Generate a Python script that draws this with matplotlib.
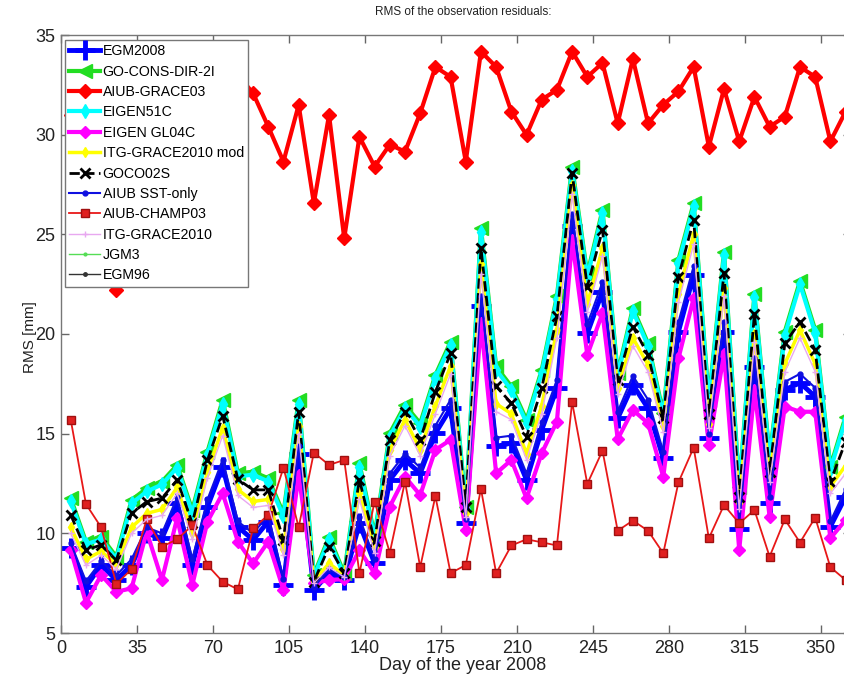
import numpy as np
import matplotlib
matplotlib.use('Agg')
import matplotlib.pyplot as plt

plt.rcParams['font.family'] = ['Liberation Sans', 'DejaVu Sans']

# weekly solutions through 2008
days = np.arange(4.5, 362, 7)

egm2008 = [9.25, 7.32, 8.41, 7.66, 8.41, 10.0, 9.75, 11.51, 8.41, 11.34,
           13.34, 10.33, 9.67, 10.59, 7.41, 14.0, 7.16, 7.99, 7.66, 10.5,
           8.49, 12.68, 13.68, 13.01, 15.02, 16.27, 10.5, 21.4, 14.36, 14.53,
           12.68, 15.19, 17.28, 25.42, 20.04, 22.13, 15.77, 17.45, 16.27, 13.76,
           20.12, 22.96, 14.77, 20.12, 10.2, 18.36, 11.5, 17.2, 17.55, 16.86,
           10.34, 11.84]
go_cons = [11.76, 9.58, 9.83, 8.83, 11.67, 12.26, 12.59, 13.43, 11.17, 14.1,
           16.69, 13.01, 13.09, 12.76, 11.0, 16.69, 7.91, 9.83, 7.99, 13.51,
           9.9, 15.02, 16.44, 15.52, 17.94, 19.61, 11.34, 25.31, 18.37, 17.37,
           15.69, 18.2, 21.9, 28.4, 23.0, 26.22, 18.03, 21.3, 19.53, 16.02,
           23.72, 26.56, 16.69, 24.13, 12.3, 22.0, 13.84, 20.12, 22.66, 20.21,
           13.34, 15.86]
# first weeks sit behind the legend box
aiub_grace03 = [31.0, 29.5, 30.2, 22.2, 28.5, 30.8, 31.5, 29.0, 30.4, 31.8,
                30.0, 33.0, 32.08, 30.4, 28.65, 31.49, 26.56, 30.99, 24.8, 29.9,
                28.4, 29.5, 29.15, 31.07, 33.4, 32.9, 28.65, 34.17, 33.4, 31.16,
                29.99, 31.76, 32.25, 34.17, 32.9, 33.6, 30.57, 33.8, 30.57, 31.5,
                32.17, 33.4, 29.4, 32.3, 29.66, 31.9, 30.4, 30.9, 33.4, 32.9,
                29.66, 31.16]
eigen51c = [11.6, 9.45, 9.7, 8.7, 11.5, 12.1, 12.45, 13.3, 11.0, 13.95,
            16.5, 12.85, 12.95, 12.6, 10.85, 16.5, 7.8, 9.7, 7.85, 13.35,
            9.75, 14.85, 16.3, 15.35, 17.8, 19.45, 11.2, 25.1, 18.2, 17.2,
            15.55, 18.05, 21.75, 28.2, 22.85, 26.05, 17.9, 21.15, 19.4, 15.85,
            23.55, 26.4, 16.5, 23.95, 12.15, 21.85, 13.7, 19.95, 22.5, 20.05,
            13.2, 15.7]
eigen_gl04c = [9.16, 6.52, 7.91, 7.07, 7.24, 10.08, 7.66, 10.76, 7.41, 10.59,
               12.01, 9.58, 8.49, 9.58, 7.16, 12.93, 7.5, 7.66, 7.7, 9.16,
               7.99, 11.34, 12.84, 11.92, 14.19, 14.69, 10.17, 20.54, 13.01, 13.68,
               11.76, 14.02, 15.61, 24.7, 18.95, 21.04, 14.73, 16.19, 15.52, 12.84,
               18.78, 21.8, 14.43, 19.0, 9.16, 17.19, 10.84, 16.36, 16.1, 16.1,
               9.75, 10.67]
itg_mod = [10.3, 8.7, 9.1, 8.45, 10.3, 11.0, 11.2, 12.3, 10.0, 13.1,
           15.3, 12.2, 11.6, 11.7, 9.2, 15.4, 7.6, 8.5, 7.9, 12.0,
           9.3, 14.2, 15.7, 14.2, 16.4, 18.4, 11.0, 23.5, 16.5, 16.0,
           14.0, 16.4, 20.2, 27.5, 21.5, 24.3, 17.3, 19.8, 18.45, 15.4,
           22.0, 25.0, 15.5, 22.3, 11.5, 20.0, 12.9, 18.5, 20.2, 18.5,
           12.35, 13.4]
goco02s = [10.92, 9.16, 9.42, 8.66, 11.0, 11.59, 11.76, 12.68, 10.5, 13.68,
           15.89, 12.71, 12.18, 12.18, 9.67, 16.1, 7.58, 9.33, 8.0, 12.68,
           9.6, 14.69, 16.1, 14.69, 17.1, 19.03, 11.34, 24.3, 17.37, 16.53,
           14.85, 17.28, 20.88, 28.07, 22.38, 25.22, 17.7, 20.37, 18.95, 15.77,
           22.88, 25.72, 16.0, 23.05, 11.84, 21.0, 13.09, 19.53, 20.6, 19.2,
           12.59, 14.6]
aiub_sst = [9.5, 7.6, 8.6, 7.9, 8.7, 10.3, 10.0, 11.8, 8.7, 11.7,
            13.7, 10.6, 10.0, 10.9, 7.7, 14.4, 7.3, 8.2, 7.8, 10.8,
            8.7, 13.0, 14.0, 13.3, 15.4, 16.7, 10.7, 21.9, 14.8, 14.9,
            13.0, 15.6, 17.7, 26.0, 20.5, 22.6, 16.1, 17.9, 16.7, 14.1,
            20.6, 23.4, 15.0, 20.6, 10.5, 18.8, 11.8, 17.6, 18.0, 17.3,
            10.6, 12.2]
aiub_champ03 = [15.69, 11.47, 10.3, 7.46, 8.2, 10.7, 9.33, 9.7, 10.4, 8.4,
                7.57, 7.19, 10.25, 10.92, 13.29, 10.3, 14.05, 13.43, 13.68, 8.0,
                11.59, 9.03, 12.6, 8.3, 11.87, 8.0, 8.41, 12.23, 8.0, 9.39,
                9.7, 9.55, 9.39, 16.58, 12.48, 14.15, 10.13, 10.64, 10.13, 9.0,
                12.56, 14.3, 9.75, 11.42, 10.5, 11.17, 8.83, 10.7, 9.54, 10.79,
                8.3, 7.66]
itg2010 = [10.0, 8.4, 8.9, 8.2, 10.0, 10.7, 10.9, 12.0, 9.7, 12.8,
           14.9, 11.9, 11.3, 11.4, 8.9, 15.0, 7.5, 8.3, 7.8, 11.7,
           9.0, 13.9, 15.4, 13.9, 16.0, 18.0, 10.8, 23.0, 16.1, 15.7,
           13.7, 16.0, 19.8, 27.0, 21.1, 23.9, 17.0, 19.4, 18.1, 15.1,
           21.6, 24.5, 15.3, 21.9, 11.2, 19.6, 12.6, 18.1, 19.8, 18.1,
           12.0, 13.0]
# JGM3 and EGM96 stay above the shown range, only their legend entries are visible
jgm3 = []
egm96 = []

xticks = [0, 35, 70, 105, 140, 175, 210, 245, 280, 315, 350]
yticks = [5, 10, 15, 20, 25, 30, 35]

fig = plt.figure(figsize=(8.45, 6.84), dpi=100)
ax = fig.add_axes([61/845, 51/684, 790/845, 598/684])

ax.plot(days, egm2008, '-', color='#0000ff', lw=3.5, marker='+', ms=15, mew=3.5, label='EGM2008')
ax.plot(days, go_cons, '-', color='#22dd22', lw=3, marker='<', ms=10, label='GO-CONS-DIR-2I')
ax.plot(days, aiub_grace03, '-', color='#ff0000', lw=3, marker='D', ms=7.5, label='AIUB-GRACE03')
ax.plot(days, eigen51c, '-', color='#00ffff', lw=3, marker='d', ms=7, label='EIGEN51C')
ax.plot(days, eigen_gl04c, '-', color='#ff00ff', lw=3, marker='D', ms=6.5, label='EIGEN GL04C')
ax.plot(days, itg_mod, '-', color='#ffff00', lw=2.5, marker='d', ms=5, label='ITG-GRACE2010 mod')
ax.plot(days, goco02s, '--', color='black', lw=2, marker='x', ms=7, mew=2, label='GOCO02S')
ax.plot(days, aiub_sst, '-', color='#1010e0', lw=1.5, marker='.', ms=7, label='AIUB SST-only')
ax.plot(days, aiub_champ03, '-', color='#e81818', lw=1.3, marker='s', ms=5.5,
        mfc='#e02020', mec='#a01010', label='AIUB-CHAMP03')
ax.plot(days, itg2010, '-', color='#e8a8f0', lw=1, marker='+', ms=5, label='ITG-GRACE2010')
ax.plot(days[:len(jgm3)], jgm3, '-', color='#55dd55', lw=1, marker='.', ms=4, label='JGM3')
ax.plot(days[:len(egm96)], egm96, '-', color='#333333', lw=1, marker='.', ms=5, label='EGM96')

ax.set_xlim(0, 364)
ax.set_ylim(5, 35)
ax.set_xticks(xticks)
ax.set_yticks(yticks)
ax.tick_params(direction='in', top=True, right=True, length=6, width=1,
               color='#666666', labelsize=13, labelcolor='#222222')
ax.tick_params(axis='x', pad=5)
ax.tick_params(axis='y', pad=4)
for s in ax.spines.values():
    s.set_color('#777777')
    s.set_linewidth(1)

leg = ax.legend(loc='upper left', bbox_to_anchor=(4/790, 593/598), borderaxespad=0,
                fontsize=10.2, frameon=True, fancybox=False, edgecolor='#777777',
                framealpha=1, handlelength=2.2, handletextpad=0.15,
                labelspacing=0.45, borderpad=0.3)
leg.get_frame().set_linewidth(1)

fig.text(463/845, 1 - 12/684, 'RMS of the observation residuals:', ha='center', va='center',
         fontsize=8.5, color='#222222')
fig.text(463/845, 1 - 665/684, 'Day of the year 2008', ha='center', va='center',
         fontsize=13, color='#222222')
fig.text(30/845, 1 - 337/684, 'RMS [mm]', ha='center', va='center', rotation=90,
         fontsize=11, color='#222222')

fig.savefig('out.png', dpi=100)
